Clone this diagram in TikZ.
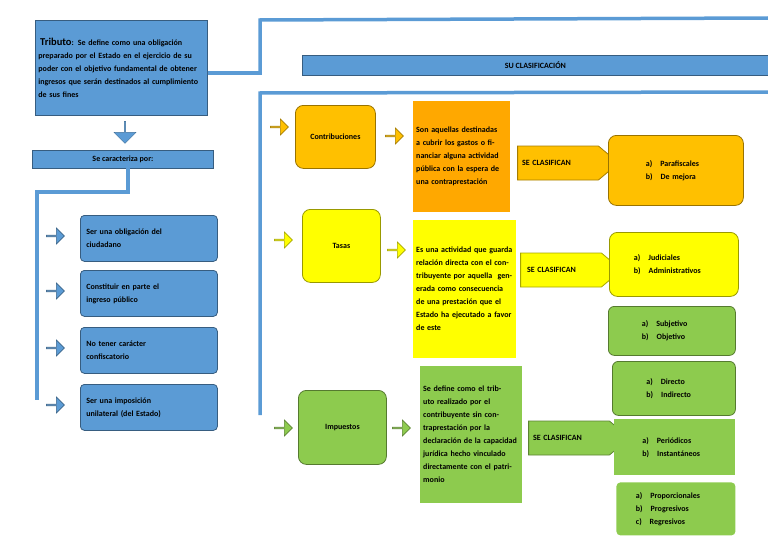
\documentclass[tikz,border=0pt]{standalone}
\usepackage{fontspec}
\setmainfont{Carlito}
\usetikzlibrary{shapes.arrows}
\definecolor{bl}{HTML}{5B9BD5}
\definecolor{bld}{HTML}{41719C}
\definecolor{org}{HTML}{FFC000}
\definecolor{org2}{HTML}{FFA800}
\definecolor{yel}{HTML}{FFFF00}
\definecolor{grn}{HTML}{8DCB4E}
\definecolor{grnd}{HTML}{5E9C33}
\begin{document}
\begin{tikzpicture}[x=1pt,y=-1pt,
  txt/.style={font=\bfseries\fontsize{8}{13}\selectfont,align=left,inner sep=3pt},
  box/.style={txt,draw=#1!60!black,line width=0.8pt,anchor=north west},
  conn/.style={draw=bl,line width=3.5pt},
  sarr/.style={single arrow,draw=#1!65!black,fill=#1,minimum height=18pt,minimum width=16pt,single arrow head extend=3pt,inner sep=0pt,line width=0.6pt},
  clas/.style={single arrow,draw=#1!65!black,fill=#1,minimum height=86pt,minimum width=34pt,single arrow head extend=0pt,single arrow tip angle=80,inner sep=0pt,line width=0.8pt,font=\bfseries\fontsize{8}{10}\selectfont,text width=80pt,align=left}]
\useasboundingbox (0,0) rectangle (768,543);
% Left column
\node[box=bl,fill=bl,text width=166pt,minimum height=95pt,anchor=north west] (trib) at (35,20)
 {\fontsize{10.5}{12}\selectfont\,Tributo\fontsize{8}{13}\selectfont: Se define como una obligación preparado por el Estado en el ejercicio de su poder con el objetivo fundamental de obtener ingresos que serán destinados al cumplimiento de sus fines};
\node[single arrow,shape border rotate=270,fill=bl,draw=bld,minimum height=22pt,minimum width=22pt,single arrow head extend=3pt,inner sep=0pt] (dn) at (125,132) {};
\node[box=bl,fill=bl,minimum width=181pt,minimum height=18pt,align=center,anchor=north west] (car) at (32,150) {Se caracteriza por:};
\coordinate (c1) at (128,192);\coordinate (c2) at (37,192);\coordinate (c3) at (37,400);
\draw[conn] (128,168) -- (c1) -- (c2) -- (c3);
\foreach \y/\t/\n in {215/{Ser una obligación del\\ciudadano}/k1,270/{Constituir en parte el\\ingreso público}/k2,327/{No tener carácter\\confiscatorio}/k3,384/{Ser una imposición\\unilateral (del Estado)}/k4}{
 \node[box=bl,fill=bl,rounded corners=4pt,minimum width=137pt,minimum height=46pt,text width=125pt,anchor=north west] (\n) at (80,\y) {\t};
 \node[sarr=bl] at (55,\y+21) {};}
% Top connectors
\coordinate (t1) at (260,73);\coordinate (t2) at (260,20);\coordinate (t3) at (768,18);
\draw[conn] (trib.east |- 0,73) -- (t1) -- (t2) -- (t3);
\node[box=bl,fill=bl,minimum width=466pt,minimum height=20pt,align=center,anchor=north west,inner sep=0pt] (su) at (302,55) {SU CLASIFICACIÓN};
\coordinate (u1) at (768,92);\coordinate (u2) at (260,93);\coordinate (u3) at (260,415);
\draw[conn] (u1) -- (u2) -- (u3);
% Contribuciones
\node[sarr=org] at (279,127) {};
\node[box=org,fill=org,rounded corners=8pt,minimum width=80pt,minimum height=63pt,align=center] (con) at (295,105) {Contribuciones};
\node[sarr=org] at (394,136) {};
\node[txt,fill=org2,anchor=north west,text width=91pt,minimum height=111pt] (cont) at (413,101) {Son aquellas destinadas a cubrir los gastos o financiar alguna actividad pública con la espera de una contraprestación};
\node[clas=org] (ca1) at (558,163) {\hspace*{4pt}SE CLASIFICAN};
\node[box=org,fill=org,minimum width=135pt,minimum height=70pt,rounded corners=8pt,align=left,text width=60pt] (cr) at (608,135) {a)\quad Parafiscales\\b)\quad De mejora};
% Tasas
\node[sarr=yel] at (283,240) {};
\node[box=yel,fill=yel,rounded corners=8pt,minimum width=78pt,minimum height=73pt,align=center] (tas) at (302,209) {Tasas};
\node[sarr=yel] at (396,250) {};
\node[txt,fill=yel,anchor=north west,text width=97pt,minimum height=138pt] (tast) at (413,220) {Es una actividad que guarda relación directa con el contribuyente por aquella\ \ generada como consecuencia de una prestación que el\ \ Estado ha ejecutado a favor de este};
\node[clas=yel] (ca2) at (561,270) {\hspace*{6pt}SE CLASIFICAN};
\node[box=yel,fill=yel,minimum width=129pt,minimum height=64pt,rounded corners=8pt,text width=80pt] (tr) at (609,232) {a)\quad Judiciales\\b)\quad Administrativos};
\node[box=grn,fill=grn,minimum width=127pt,minimum height=49pt,rounded corners=6pt,text width=60pt] (sub) at (608,306) {a)\quad Subjetivo\\b)\quad Objetivo};
% Impuestos
\node[sarr=grn] at (283,428) {};
\node[box=grn,fill=grn,rounded corners=8pt,minimum width=88pt,minimum height=74pt,align=center] (imp) at (298,390) {Impuestos};
\node[sarr=grn] at (401,428) {};
\node[txt,fill=grn,anchor=north west,text width=96pt,minimum height=137pt] (impt) at (420,366) {Se define como el tributo realizado por el contribuyente sin contraprestación por la declaración de la capacidad jurídica hecho vinculado directamente con el patrimonio};
\node[clas=grn] (ca3) at (569,438) {\hspace*{4pt}SE CLASIFICAN};
\node[box=grn,fill=grn,minimum width=123pt,minimum height=54pt,rounded corners=6pt,text width=55pt] (d1) at (612,361) {a)\quad Directo\\b)\quad Indirecto};
\node[box=grn,fill=grn,draw=none,minimum width=121pt,minimum height=56pt,text width=65pt] (d2) at (614,419) {a)\quad Periódicos\\b)\quad Instantáneos};
\node[box=grn,fill=grn,draw=none,minimum width=119pt,minimum height=53pt,rounded corners=4pt,text width=80pt] (d3) at (616,482) {a)\quad Proporcionales\\b)\quad Progresivos\\c)\quad Regresivos};
\end{tikzpicture}
\end{document}
